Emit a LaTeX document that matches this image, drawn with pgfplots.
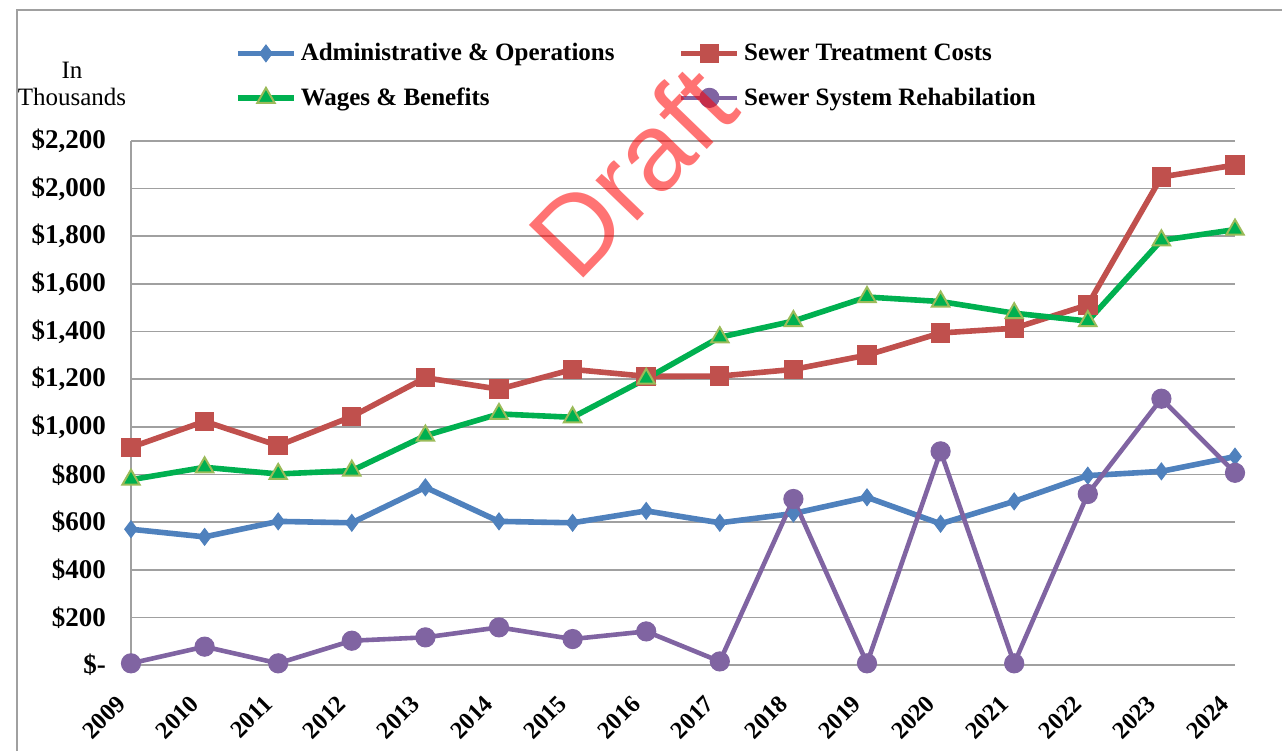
\documentclass[border=0pt]{standalone}
\usepackage{pgfplots}
\pgfplotsset{compat=1.18}
\usepackage{fontspec}
\setmainfont{Liberation Serif}
\newfontfamily\draftfont{Liberation Sans}
\definecolor{cblue}{HTML}{4F81BD}
\definecolor{cred}{HTML}{C0504D}
\definecolor{cgreen}{HTML}{00B050}
\definecolor{cgreenedge}{HTML}{9BBB59}
\definecolor{cpurple}{HTML}{8064A2}
\definecolor{cgrid}{HTML}{A0A0A0}
\begin{document}
\begin{tikzpicture}
\useasboundingbox (-65.5pt,-43pt) rectangle (575.5pt,332.5pt);
\draw[cgrid, line width=0.8pt] (-57pt,-43pt) -- (-57pt,327.5pt) -- (575.5pt,327.5pt);
\begin{axis}[
  at={(0,0)}, anchor=south west,
  scale only axis, width=552pt, height=262pt,
  xmin=2009, xmax=2024, ymin=0, ymax=2200,
  xtick={2009,...,2024},
  xticklabels={2009,2010,2011,2012,2013,2014,2015,2016,2017,2018,2019,2020,2021,2022,2023,2024},
  ytick={0,200,...,2200},
  yticklabels={\$-,\$200,\$400,\$600,\$800,{\$1,000},{\$1,200},{\$1,400},{\$1,600},{\$1,800},{\$2,000},{\$2,200}},
  /pgf/number format/assume math mode=true,
  major tick length=0pt,
  ymajorgrids, grid style={cgrid, line width=0.8pt},
  separate axis lines,
  axis x line*=bottom, axis y line*=left,
  x axis line style={draw=none},
  y axis line style={cgrid, line width=0.8pt, -},
  yticklabel style={font=\bfseries\fontsize{13.5}{14}\selectfont, anchor=east, xshift=-9pt},
  xticklabel style={font=\bfseries\fontsize{12.2}{13}\selectfont, xshift=-2.5pt, yshift=-15pt, rotate=45, anchor=east},
  legend columns=2,
  legend cell align=left,
  legend style={draw=none, fill=none, inner sep=0pt,
    at={(rel axis cs:0.094,1.195)}, anchor=north west,
    font=\bfseries\fontsize{12.5}{13}\selectfont,
    /tikz/row sep=8pt,
    /tikz/every even column/.append style={column sep=30pt}},
  legend image code/.code={\draw[mark repeat=2,mark phase=2] plot coordinates {(0pt,0pt)(14pt,0pt)(28pt,0pt)};},
  clip=false,
]
\addplot[cblue, line width=2.8pt, mark=diamond*, mark size=4.2pt, mark options={solid, fill=cblue, draw=cblue, line width=0.5pt}] coordinates {
(2009,570)(2010,538)(2011,603)(2012,597)(2013,746)(2014,603)(2015,597)(2016,647)
(2017,597)(2018,636)(2019,704)(2020,593)(2021,687)(2022,795)(2023,813)(2024,875)};
\addlegendentry{Administrative \& Operations}
\addplot[cred, line width=2.8pt, mark=square*, mark size=4.6pt, mark options={solid, fill=cred, draw=cred, line width=0.5pt}] coordinates {
(2009,914)(2010,1023)(2011,921)(2012,1043)(2013,1206)(2014,1158)(2015,1241)(2016,1212)
(2017,1213)(2018,1241)(2019,1301)(2020,1394)(2021,1414)(2022,1512)(2023,2049)(2024,2099)};
\addlegendentry{Sewer Treatment Costs}
\addplot[cgreen, line width=2.8pt, mark=triangle*, mark size=5pt, mark options={solid, fill=cgreen, draw=cgreenedge, line width=1pt}] coordinates {
(2009,778)(2010,830)(2011,802)(2012,816)(2013,963)(2014,1054)(2015,1040)(2016,1202)
(2017,1376)(2018,1444)(2019,1545)(2020,1526)(2021,1477)(2022,1444)(2023,1783)(2024,1828)};
\addlegendentry{Wages \& Benefits}
\addplot[cpurple, line width=2.3pt, mark=*, mark size=4.8pt, mark options={solid, fill=cpurple, draw=cpurple, line width=0.5pt}] coordinates {
(2009,7)(2010,77)(2011,7)(2012,102)(2013,116)(2014,158)(2015,109)(2016,141)
(2017,15)(2018,697)(2019,7)(2020,897)(2021,7)(2022,718)(2023,1118)(2024,807)};
\addlegendentry{Sewer System Rehabilation}
\end{axis}
\node[font=\fontsize{12.5}{13}\selectfont] at (-29.5pt,297.5pt) {In};
\node[font=\fontsize{12.5}{13}\selectfont] at (-29.5pt,284pt) {Thousands};
\node[font=\draftfont\fontsize{55}{55}\selectfont, text=red, opacity=0.55, rotate=46] at (250.5pt,247pt) {Draft};
\end{tikzpicture}
\end{document}
